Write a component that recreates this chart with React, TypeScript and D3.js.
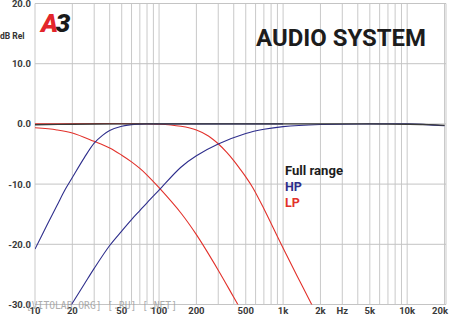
import React from "react";
import * as d3 from "d3";

const fullFreq = [10, 20, 50, 100, 1000, 5000, 10000, 15000, 20000];
const fullDb = [-0.15, -0.05, 0, 0, 0, 0, -0.05, -0.12, -0.25];

const hp1Freq = [10, 12.5, 15, 17.5, 20, 25, 30, 35, 40, 50, 60, 80, 100, 200, 1000];
const hp1Db = [-20.8, -16.8, -13.6, -10.9, -8.9, -5.6, -3.2, -1.9, -1.1, -0.4, -0.12, 0, 0, 0, 0];

const hp2Freq = [18, 20, 25, 30, 40, 50, 60, 70, 80, 100, 150, 200, 300, 500, 700, 1000, 2000, 5000, 10000, 20000];
const hp2Db = [-31.3, -29.8, -26.6, -24.0, -20.2, -17.8, -15.9, -14.4, -13.1, -11.0, -7.2, -5.3, -3.35, -1.6, -0.9, -0.45, -0.1, 0, 0, -0.3];

const lp1Freq = [10, 15, 20, 30, 40, 50, 60, 70, 80, 100, 150, 200, 300, 400, 500];
const lp1Db = [-0.65, -1.0, -1.5, -2.9, -4.0, -5.2, -6.3, -7.4, -8.5, -10.6, -14.8, -18.4, -24.3, -28.8, -32.3];

const lp2Freq = [10, 100, 150, 200, 250, 300, 350, 400, 450, 500, 570, 700, 950, 1300, 1720, 2000];
const lp2Db = [0, -0.05, -0.4, -1.0, -2.0, -3.3, -4.7, -6.1, -7.5, -8.8, -10.6, -14.1, -19.7, -25.3, -30.2, -32.8];

const xTickVals = [10, 20, 50, 100, 200, 500, 1000, 2000, 3000, 5000, 10000, 20000];
const xTickLabels = ["10", "20", "50", "100", "200", "500", "1k", "2k", "Hz", "5k", "10k", "20k"];
const yTickVals = [20, 10, 0, -10, -20, -30];
const yTickLabels = ["20.0", "10.0", "0.0", "-10.0", "-20.0", "-30.0"];

const legendLabels = ["Full range", "HP", "LP"];

const BLUE = "#2e2e8c";
const RED = "#e2312b";
const DARK = "#3a3a3a";

export default function App() {
  const W = 450;
  const H = 314;
  const x = d3.scaleLog().domain([10, 20000]).range([35, 444.5]);
  const y = d3.scaleLinear().domain([-30, 20]).range([304.5, 3.5]);

  const gridX: number[] = [];
  for (let dec = 10; dec <= 10000; dec *= 10) {
    for (let m = 1; m <= 9; m++) gridX.push(dec * m);
  }
  gridX.push(20000);

  const line = d3
    .line<[number, number]>()
    .x((d) => x(d[0]))
    .y((d) => y(d[1]))
    .curve(d3.curveCatmullRom.alpha(0.5));

  const zip = (f: number[], v: number[]) => f.map((ff, i) => [ff, v[i]] as [number, number]);

  const series = [
    { f: lp2Freq, v: lp2Db, c: RED, w: 1.1 },
    { f: lp1Freq, v: lp1Db, c: RED, w: 1.1 },
    { f: hp1Freq, v: hp1Db, c: BLUE, w: 1.1 },
    { f: hp2Freq, v: hp2Db, c: BLUE, w: 1.1 },
    { f: fullFreq, v: fullDb, c: DARK, w: 1.4 },
  ];

  const font = "Roboto, 'DejaVu Sans', sans-serif";

  return (
    <svg
      width={W}
      height={H}
      style={{ position: "absolute", left: 0, top: 0, background: "#fff" }}
      fontFamily={font}
    >
      <defs>
        <clipPath id="plot">
          <rect x={35} y={0} width={412} height={304.5} />
        </clipPath>
      </defs>
      <rect x={0} y={0} width={W} height={H} fill="#fff" />
      {gridX.map((f) => (
        <line key={"gx" + f} x1={x(f)} x2={x(f)} y1={y(20)} y2={y(-30)} stroke="#c9c9c9" strokeWidth={1} />
      ))}
      <line x1={446} x2={446} y1={y(20)} y2={y(-30)} stroke="#c9c9c9" strokeWidth={1} />
      {yTickVals.map((v) => (
        <line key={"gy" + v} x1={35} x2={446} y1={y(v)} y2={y(v)} stroke="#c4c4c4" strokeWidth={1} />
      ))}

      {/* Title / logo */}
      <text x={41} y={32} fontSize={26} fontWeight={900} fontStyle="italic" fill="#e3262b" letterSpacing={-2.5}>
        A<tspan fill="#1a1a1a">3</tspan>
      </text>
      <text
        x={256}
        y={45.5}
        fontSize={24}
        fontWeight={700}
        fill="#1c1c1c"
        textLength={170}
        lengthAdjust="spacingAndGlyphs"
      >
        AUDIO SYSTEM
      </text>

      {/* curves */}
      <g clipPath="url(#plot)">
        {series.map((s, i) => (
          <path key={i} d={line(zip(s.f, s.v)) || ""} fill="none" stroke={s.c} strokeWidth={s.w} />
        ))}
      </g>

      {/* y axis labels */}
      <text x={0} y={39} fontSize={8.5} fontWeight={700} fill="#333">
        dB Rel
      </text>
      {yTickVals.map((v, i) => (
        <text
          key={"yl" + v}
          x={31}
          y={y(v) + 3.5}
          fontSize={9.5}
          fontWeight={700}
          fill="#3a3a3a"
          textAnchor="end"
        >
          {yTickLabels[i]}
        </text>
      ))}

      {/* x axis labels */}
      {xTickVals.map((v, i) => {
        const last = i === xTickVals.length - 1;
        return (
          <text
            key={"xl" + v}
            x={last ? 448 : x(v)}
            y={313.5}
            fontSize={9.5}
            fontWeight={700}
            fill="#3a3a3a"
            textAnchor={last ? "end" : "middle"}
          >
            {xTickLabels[i]}
          </text>
        );
      })}

      {/* watermark */}
      <text
        x={26}
        y={309}
        fontSize={10}
        fontFamily="'DejaVu Sans Mono', monospace"
        fill="#9a9a9a"
        opacity={0.8}
        textLength={151}
        lengthAdjust="spacingAndGlyphs"
      >
        [VITOLAB.ORG] [.RU] [.NET]
      </text>

      {/* legend */}
      <text x={285} y={175} fontSize={12.5} fontWeight={700} fill="#1c1c1c" textLength={58} lengthAdjust="spacingAndGlyphs">
        {legendLabels[0]}
      </text>
      <text x={285} y={191} fontSize={12.5} fontWeight={700} fill={BLUE}>
        {legendLabels[1]}
      </text>
      <text x={285} y={207} fontSize={12.5} fontWeight={700} fill={RED}>
        {legendLabels[2]}
      </text>
    </svg>
  );
}
